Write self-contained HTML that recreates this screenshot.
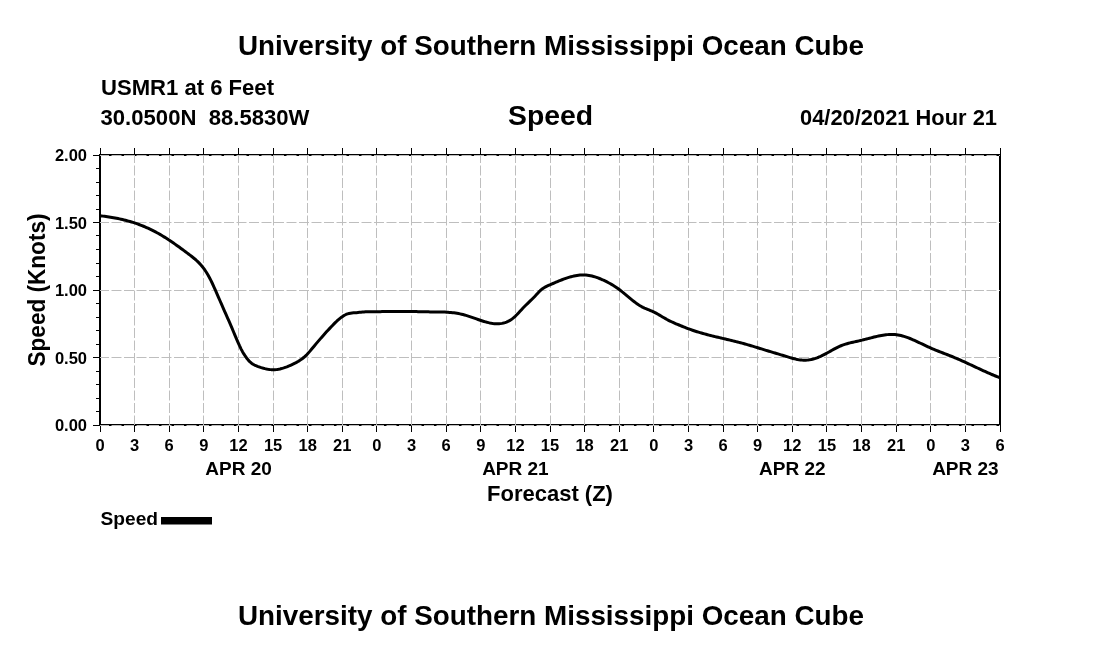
<!DOCTYPE html><html><head><meta charset="utf-8"><style>html,body{margin:0;padding:0;background:#fff;width:1100px;height:650px;overflow:hidden}svg{display:block;filter:grayscale(1)}text{font-family:"Liberation Sans",sans-serif;font-weight:bold;fill:#000}</style></head><body>
<svg width="1100" height="650" viewBox="0 0 1100 650">
<rect width="1100" height="650" fill="#fff"/>
<path d="M99 154.5H1001M99 155.5H1001M99 424.5H1001M99 425.5H1001" stroke="#000" stroke-width="1" fill="none"/>
<path d="M99.5 154V426M100.5 154V426M999.5 154V426M1000.5 154V426" stroke="#000" stroke-width="1" fill="none"/>
<path d="M134.5 155V425 M169.5 155V425 M203.5 155V425 M238.5 155V425 M273.5 155V425 M307.5 155V425 M342.5 155V425 M376.5 155V425 M411.5 155V425 M446.5 155V425 M480.5 155V425 M515.5 155V425 M550.5 155V425 M584.5 155V425 M619.5 155V425 M653.5 155V425 M688.5 155V425 M723.5 155V425 M757.5 155V425 M792.5 155V425 M826.5 155V425 M861.5 155V425 M896.5 155V425 M930.5 155V425 M965.5 155V425" stroke="#bebebe" stroke-width="1" stroke-dasharray="10 2.5" stroke-dashoffset="2" fill="none"/>
<path d="M100 425.5H1000 M100 357.5H1000 M100 290.5H1000 M100 222.5H1000 M100 155.5H1000" stroke="#bebebe" stroke-width="1" stroke-dasharray="10 2.5" stroke-dashoffset="1" fill="none"/>
<path d="M100.5 148V154M100.5 426V432 M134.5 148V154M134.5 426V432 M169.5 148V154M169.5 426V432 M203.5 148V154M203.5 426V432 M238.5 148V154M238.5 426V432 M273.5 148V154M273.5 426V432 M307.5 148V154M307.5 426V432 M342.5 148V154M342.5 426V432 M376.5 148V154M376.5 426V432 M411.5 148V154M411.5 426V432 M446.5 148V154M446.5 426V432 M480.5 148V154M480.5 426V432 M515.5 148V154M515.5 426V432 M550.5 148V154M550.5 426V432 M584.5 148V154M584.5 426V432 M619.5 148V154M619.5 426V432 M653.5 148V154M653.5 426V432 M688.5 148V154M688.5 426V432 M723.5 148V154M723.5 426V432 M757.5 148V154M757.5 426V432 M792.5 148V154M792.5 426V432 M826.5 148V154M826.5 426V432 M861.5 148V154M861.5 426V432 M896.5 148V154M896.5 426V432 M930.5 148V154M930.5 426V432 M965.5 148V154M965.5 426V432 M1000.5 148V154M1000.5 426V432 M93 425.5H99 M96 411.5H99 M96 398.5H99 M96 384.5H99 M96 371.5H99 M93 357.5H99 M96 344.5H99 M96 330.5H99 M96 317.5H99 M96 303.5H99 M93 290.5H99 M96 276.5H99 M96 263.5H99 M96 249.5H99 M96 235.5H99 M93 222.5H99 M96 209.5H99 M96 195.5H99 M96 182.5H99 M96 168.5H99 M93 155.5H99" stroke="#000" stroke-width="1" fill="none"/>
<path d="M100.0 215.74 L101.5 215.93 L103.0 216.12 L104.5 216.32 L106.0 216.53 L107.5 216.75 L109.0 216.98 L110.5 217.21 L112.0 217.46 L113.5 217.72 L115.0 218.00 L116.5 218.28 L118.0 218.58 L119.5 218.90 L121.0 219.22 L122.5 219.57 L124.0 219.92 L125.5 220.30 L127.0 220.69 L128.5 221.10 L130.0 221.52 L131.5 221.97 L133.0 222.43 L134.5 222.91 L136.0 223.41 L137.5 223.94 L139.0 224.48 L140.5 225.05 L142.0 225.63 L143.5 226.24 L145.0 226.87 L146.5 227.52 L148.0 228.19 L149.5 228.89 L151.0 229.61 L152.5 230.35 L154.0 231.11 L155.5 231.90 L157.0 232.71 L158.5 233.54 L160.0 234.40 L161.5 235.28 L163.0 236.19 L164.5 237.11 L166.0 238.06 L167.5 239.03 L169.0 240.01 L170.5 241.02 L172.0 242.04 L173.5 243.07 L175.0 244.12 L176.5 245.18 L178.0 246.26 L179.5 247.34 L181.0 248.44 L182.5 249.54 L184.0 250.66 L185.5 251.78 L187.0 252.90 L188.5 254.03 L190.0 255.16 L191.5 256.31 L193.0 257.49 L194.5 258.72 L196.0 260.01 L197.5 261.39 L199.0 262.88 L200.5 264.48 L202.0 266.23 L203.5 268.14 L205.0 270.23 L206.5 272.51 L208.0 275.01 L209.5 277.73 L211.0 280.66 L212.5 283.77 L214.0 287.02 L215.5 290.38 L217.0 293.81 L218.5 297.28 L220.0 300.75 L221.5 304.20 L223.0 307.63 L224.5 311.04 L226.0 314.44 L227.5 317.83 L229.0 321.22 L230.5 324.65 L232.0 328.14 L233.5 331.72 L235.0 335.34 L236.5 338.92 L238.0 342.40 L239.5 345.72 L241.0 348.84 L242.5 351.67 L244.0 354.20 L245.5 356.47 L247.0 358.53 L248.5 360.36 L250.0 361.93 L251.5 363.20 L253.0 364.23 L254.5 365.05 L256.0 365.72 L257.5 366.30 L259.0 366.83 L260.5 367.34 L262.0 367.81 L263.5 368.25 L265.0 368.64 L266.5 368.98 L268.0 369.26 L269.5 369.48 L271.0 369.63 L272.5 369.71 L274.0 369.71 L275.5 369.63 L277.0 369.47 L278.5 369.24 L280.0 368.94 L281.5 368.58 L283.0 368.16 L284.5 367.68 L286.0 367.15 L287.5 366.58 L289.0 365.97 L290.5 365.32 L292.0 364.64 L293.5 363.93 L295.0 363.19 L296.5 362.39 L298.0 361.54 L299.5 360.61 L301.0 359.60 L302.5 358.48 L304.0 357.27 L305.5 355.93 L307.0 354.45 L308.5 352.84 L310.0 351.12 L311.5 349.32 L313.0 347.50 L314.5 345.69 L316.0 343.89 L317.5 342.11 L319.0 340.36 L320.5 338.62 L322.0 336.90 L323.5 335.20 L325.0 333.52 L326.5 331.86 L328.0 330.23 L329.5 328.61 L331.0 327.02 L332.5 325.44 L334.0 323.90 L335.5 322.41 L337.0 320.98 L338.5 319.62 L340.0 318.36 L341.5 317.19 L343.0 316.15 L344.5 315.24 L346.0 314.48 L347.5 313.88 L349.0 313.46 L350.5 313.17 L352.0 312.98 L353.5 312.86 L355.0 312.76 L356.5 312.64 L358.0 312.51 L359.5 312.36 L361.0 312.21 L362.5 312.07 L364.0 311.94 L365.5 311.83 L367.0 311.75 L368.5 311.69 L370.0 311.66 L371.5 311.64 L373.0 311.63 L374.5 311.63 L376.0 311.63 L377.5 311.63 L379.0 311.63 L380.5 311.63 L382.0 311.62 L383.5 311.61 L385.0 311.60 L386.5 311.59 L388.0 311.58 L389.5 311.56 L391.0 311.55 L392.5 311.54 L394.0 311.52 L395.5 311.51 L397.0 311.50 L398.5 311.49 L400.0 311.48 L401.5 311.47 L403.0 311.47 L404.5 311.47 L406.0 311.47 L407.5 311.48 L409.0 311.49 L410.5 311.51 L412.0 311.53 L413.5 311.55 L415.0 311.58 L416.5 311.62 L418.0 311.65 L419.5 311.69 L421.0 311.72 L422.5 311.76 L424.0 311.79 L425.5 311.82 L427.0 311.85 L428.5 311.87 L430.0 311.88 L431.5 311.90 L433.0 311.91 L434.5 311.91 L436.0 311.92 L437.5 311.94 L439.0 311.96 L440.5 311.98 L442.0 312.02 L443.5 312.06 L445.0 312.12 L446.5 312.19 L448.0 312.28 L449.5 312.39 L451.0 312.53 L452.5 312.68 L454.0 312.86 L455.5 313.06 L457.0 313.30 L458.5 313.56 L460.0 313.86 L461.5 314.20 L463.0 314.57 L464.5 314.97 L466.0 315.41 L467.5 315.87 L469.0 316.36 L470.5 316.86 L472.0 317.37 L473.5 317.90 L475.0 318.43 L476.5 318.96 L478.0 319.48 L479.5 320.00 L481.0 320.50 L482.5 320.99 L484.0 321.45 L485.5 321.88 L487.0 322.29 L488.5 322.66 L490.0 322.99 L491.5 323.27 L493.0 323.50 L494.5 323.67 L496.0 323.77 L497.5 323.80 L499.0 323.75 L500.5 323.62 L502.0 323.39 L503.5 323.06 L505.0 322.63 L506.5 322.08 L508.0 321.41 L509.5 320.62 L511.0 319.69 L512.5 318.63 L514.0 317.42 L515.5 316.06 L517.0 314.55 L518.5 312.94 L520.0 311.28 L521.5 309.64 L523.0 308.05 L524.5 306.53 L526.0 305.04 L527.5 303.59 L529.0 302.14 L530.5 300.70 L532.0 299.23 L533.5 297.73 L535.0 296.18 L536.5 294.58 L538.0 292.92 L539.5 291.33 L541.0 289.92 L542.5 288.73 L544.0 287.73 L545.5 286.87 L547.0 286.11 L548.5 285.43 L550.0 284.78 L551.5 284.14 L553.0 283.50 L554.5 282.86 L556.0 282.22 L557.5 281.59 L559.0 280.97 L560.5 280.36 L562.0 279.77 L563.5 279.20 L565.0 278.65 L566.5 278.12 L568.0 277.63 L569.5 277.17 L571.0 276.74 L572.5 276.35 L574.0 276.00 L575.5 275.70 L577.0 275.44 L578.5 275.24 L580.0 275.09 L581.5 274.99 L583.0 274.96 L584.5 274.99 L586.0 275.08 L587.5 275.24 L589.0 275.46 L590.5 275.74 L592.0 276.07 L593.5 276.46 L595.0 276.90 L596.5 277.38 L598.0 277.92 L599.5 278.49 L601.0 279.11 L602.5 279.76 L604.0 280.45 L605.5 281.18 L607.0 281.93 L608.5 282.72 L610.0 283.54 L611.5 284.40 L613.0 285.30 L614.5 286.24 L616.0 287.22 L617.5 288.26 L619.0 289.34 L620.5 290.47 L622.0 291.65 L623.5 292.86 L625.0 294.10 L626.5 295.35 L628.0 296.61 L629.5 297.86 L631.0 299.10 L632.5 300.32 L634.0 301.50 L635.5 302.64 L637.0 303.73 L638.5 304.75 L640.0 305.70 L641.5 306.57 L643.0 307.35 L644.5 308.05 L646.0 308.71 L647.5 309.33 L649.0 309.94 L650.5 310.55 L652.0 311.19 L653.5 311.88 L655.0 312.62 L656.5 313.43 L658.0 314.27 L659.5 315.14 L661.0 316.03 L662.5 316.92 L664.0 317.81 L665.5 318.67 L667.0 319.51 L668.5 320.30 L670.0 321.05 L671.5 321.76 L673.0 322.45 L674.5 323.11 L676.0 323.76 L677.5 324.39 L679.0 325.01 L680.5 325.63 L682.0 326.25 L683.5 326.86 L685.0 327.45 L686.5 328.04 L688.0 328.62 L689.5 329.17 L691.0 329.71 L692.5 330.23 L694.0 330.74 L695.5 331.23 L697.0 331.71 L698.5 332.17 L700.0 332.62 L701.5 333.06 L703.0 333.49 L704.5 333.90 L706.0 334.31 L707.5 334.71 L709.0 335.10 L710.5 335.48 L712.0 335.86 L713.5 336.23 L715.0 336.59 L716.5 336.95 L718.0 337.31 L719.5 337.66 L721.0 338.01 L722.5 338.36 L724.0 338.71 L725.5 339.06 L727.0 339.42 L728.5 339.77 L730.0 340.12 L731.5 340.48 L733.0 340.85 L734.5 341.21 L736.0 341.59 L737.5 341.97 L739.0 342.35 L740.5 342.75 L742.0 343.15 L743.5 343.56 L745.0 343.98 L746.5 344.41 L748.0 344.84 L749.5 345.28 L751.0 345.72 L752.5 346.17 L754.0 346.63 L755.5 347.08 L757.0 347.54 L758.5 348.00 L760.0 348.46 L761.5 348.93 L763.0 349.39 L764.5 349.85 L766.0 350.31 L767.5 350.77 L769.0 351.23 L770.5 351.69 L772.0 352.14 L773.5 352.59 L775.0 353.04 L776.5 353.48 L778.0 353.93 L779.5 354.38 L781.0 354.84 L782.5 355.29 L784.0 355.75 L785.5 356.21 L787.0 356.68 L788.5 357.14 L790.0 357.59 L791.5 358.02 L793.0 358.43 L794.5 358.81 L796.0 359.16 L797.5 359.47 L799.0 359.73 L800.5 359.94 L802.0 360.09 L803.5 360.17 L805.0 360.19 L806.5 360.13 L808.0 360.00 L809.5 359.80 L811.0 359.53 L812.5 359.20 L814.0 358.80 L815.5 358.34 L817.0 357.82 L818.5 357.24 L820.0 356.61 L821.5 355.93 L823.0 355.20 L824.5 354.43 L826.0 353.62 L827.5 352.79 L829.0 351.94 L830.5 351.08 L832.0 350.23 L833.5 349.40 L835.0 348.58 L836.5 347.80 L838.0 347.06 L839.5 346.38 L841.0 345.75 L842.5 345.17 L844.0 344.64 L845.5 344.16 L847.0 343.71 L848.5 343.29 L850.0 342.90 L851.5 342.53 L853.0 342.18 L854.5 341.84 L856.0 341.51 L857.5 341.18 L859.0 340.85 L860.5 340.51 L862.0 340.16 L863.5 339.79 L865.0 339.41 L866.5 339.02 L868.0 338.63 L869.5 338.23 L871.0 337.84 L872.5 337.45 L874.0 337.08 L875.5 336.71 L877.0 336.36 L878.5 336.03 L880.0 335.72 L881.5 335.44 L883.0 335.18 L884.5 334.96 L886.0 334.77 L887.5 334.63 L889.0 334.52 L890.5 334.46 L892.0 334.45 L893.5 334.49 L895.0 334.59 L896.5 334.75 L898.0 334.97 L899.5 335.24 L901.0 335.57 L902.5 335.96 L904.0 336.39 L905.5 336.86 L907.0 337.38 L908.5 337.93 L910.0 338.52 L911.5 339.13 L913.0 339.77 L914.5 340.44 L916.0 341.12 L917.5 341.82 L919.0 342.52 L920.5 343.24 L922.0 343.96 L923.5 344.68 L925.0 345.40 L926.5 346.11 L928.0 346.81 L929.5 347.49 L931.0 348.16 L932.5 348.80 L934.0 349.44 L935.5 350.05 L937.0 350.66 L938.5 351.25 L940.0 351.83 L941.5 352.42 L943.0 352.99 L944.5 353.57 L946.0 354.15 L947.5 354.73 L949.0 355.31 L950.5 355.91 L952.0 356.51 L953.5 357.13 L955.0 357.76 L956.5 358.40 L958.0 359.05 L959.5 359.71 L961.0 360.37 L962.5 361.05 L964.0 361.73 L965.5 362.41 L967.0 363.10 L968.5 363.80 L970.0 364.49 L971.5 365.19 L973.0 365.89 L974.5 366.59 L976.0 367.30 L977.5 368.00 L979.0 368.69 L980.5 369.39 L982.0 370.08 L983.5 370.77 L985.0 371.45 L986.5 372.13 L988.0 372.80 L989.5 373.46 L991.0 374.11 L992.5 374.75 L994.0 375.39 L995.5 376.01 L997.0 376.62 L998.5 377.21 L999.5 377.60" stroke="#000" stroke-width="3.0" fill="none" stroke-linejoin="round"/>
<text x="238" y="55" font-size="28" textLength="626" lengthAdjust="spacingAndGlyphs">University of Southern Mississippi Ocean Cube</text>
<text x="101" y="95" font-size="22.4" textLength="173" lengthAdjust="spacingAndGlyphs">USMR1 at 6 Feet</text>
<text x="100.5" y="125" font-size="22.4" textLength="209" lengthAdjust="spacingAndGlyphs" xml:space="preserve">30.0500N  88.5830W</text>
<text x="508" y="125" font-size="28" textLength="85" lengthAdjust="spacingAndGlyphs">Speed</text>
<text x="800" y="125" font-size="22.4" textLength="197" lengthAdjust="spacingAndGlyphs">04/20/2021 Hour 21</text>
<text x="87" y="431.0" font-size="16.5" text-anchor="end">0.00</text>
<text x="87" y="363.5" font-size="16.5" text-anchor="end">0.50</text>
<text x="87" y="296.0" font-size="16.5" text-anchor="end">1.00</text>
<text x="87" y="228.5" font-size="16.5" text-anchor="end">1.50</text>
<text x="87" y="161.0" font-size="16.5" text-anchor="end">2.00</text>
<text x="100.0" y="451" font-size="16.5" text-anchor="middle">0</text>
<text x="134.6" y="451" font-size="16.5" text-anchor="middle">3</text>
<text x="169.2" y="451" font-size="16.5" text-anchor="middle">6</text>
<text x="203.8" y="451" font-size="16.5" text-anchor="middle">9</text>
<text x="238.5" y="451" font-size="16.5" text-anchor="middle">12</text>
<text x="273.1" y="451" font-size="16.5" text-anchor="middle">15</text>
<text x="307.7" y="451" font-size="16.5" text-anchor="middle">18</text>
<text x="342.3" y="451" font-size="16.5" text-anchor="middle">21</text>
<text x="376.9" y="451" font-size="16.5" text-anchor="middle">0</text>
<text x="411.5" y="451" font-size="16.5" text-anchor="middle">3</text>
<text x="446.2" y="451" font-size="16.5" text-anchor="middle">6</text>
<text x="480.8" y="451" font-size="16.5" text-anchor="middle">9</text>
<text x="515.4" y="451" font-size="16.5" text-anchor="middle">12</text>
<text x="550.0" y="451" font-size="16.5" text-anchor="middle">15</text>
<text x="584.6" y="451" font-size="16.5" text-anchor="middle">18</text>
<text x="619.2" y="451" font-size="16.5" text-anchor="middle">21</text>
<text x="653.8" y="451" font-size="16.5" text-anchor="middle">0</text>
<text x="688.5" y="451" font-size="16.5" text-anchor="middle">3</text>
<text x="723.1" y="451" font-size="16.5" text-anchor="middle">6</text>
<text x="757.7" y="451" font-size="16.5" text-anchor="middle">9</text>
<text x="792.3" y="451" font-size="16.5" text-anchor="middle">12</text>
<text x="826.9" y="451" font-size="16.5" text-anchor="middle">15</text>
<text x="861.5" y="451" font-size="16.5" text-anchor="middle">18</text>
<text x="896.2" y="451" font-size="16.5" text-anchor="middle">21</text>
<text x="930.8" y="451" font-size="16.5" text-anchor="middle">0</text>
<text x="965.4" y="451" font-size="16.5" text-anchor="middle">3</text>
<text x="1000.0" y="451" font-size="16.5" text-anchor="middle">6</text>
<text x="238.5" y="474.5" font-size="19" text-anchor="middle">APR 20</text>
<text x="515.4" y="474.5" font-size="19" text-anchor="middle">APR 21</text>
<text x="792.3" y="474.5" font-size="19" text-anchor="middle">APR 22</text>
<text x="965.4" y="474.5" font-size="19" text-anchor="middle">APR 23</text>
<text x="550" y="500.5" font-size="22" text-anchor="middle">Forecast (Z)</text>
<text transform="translate(44.5 290) rotate(-90)" font-size="23.5" text-anchor="middle" textLength="153" lengthAdjust="spacingAndGlyphs">Speed (Knots)</text>
<text x="100.5" y="524.5" font-size="18" textLength="57.5" lengthAdjust="spacingAndGlyphs">Speed</text>
<rect x="161" y="517" width="51" height="7.5" fill="#000"/>
<text x="238" y="625" font-size="28" textLength="626" lengthAdjust="spacingAndGlyphs">University of Southern Mississippi Ocean Cube</text>
</svg></body></html>
